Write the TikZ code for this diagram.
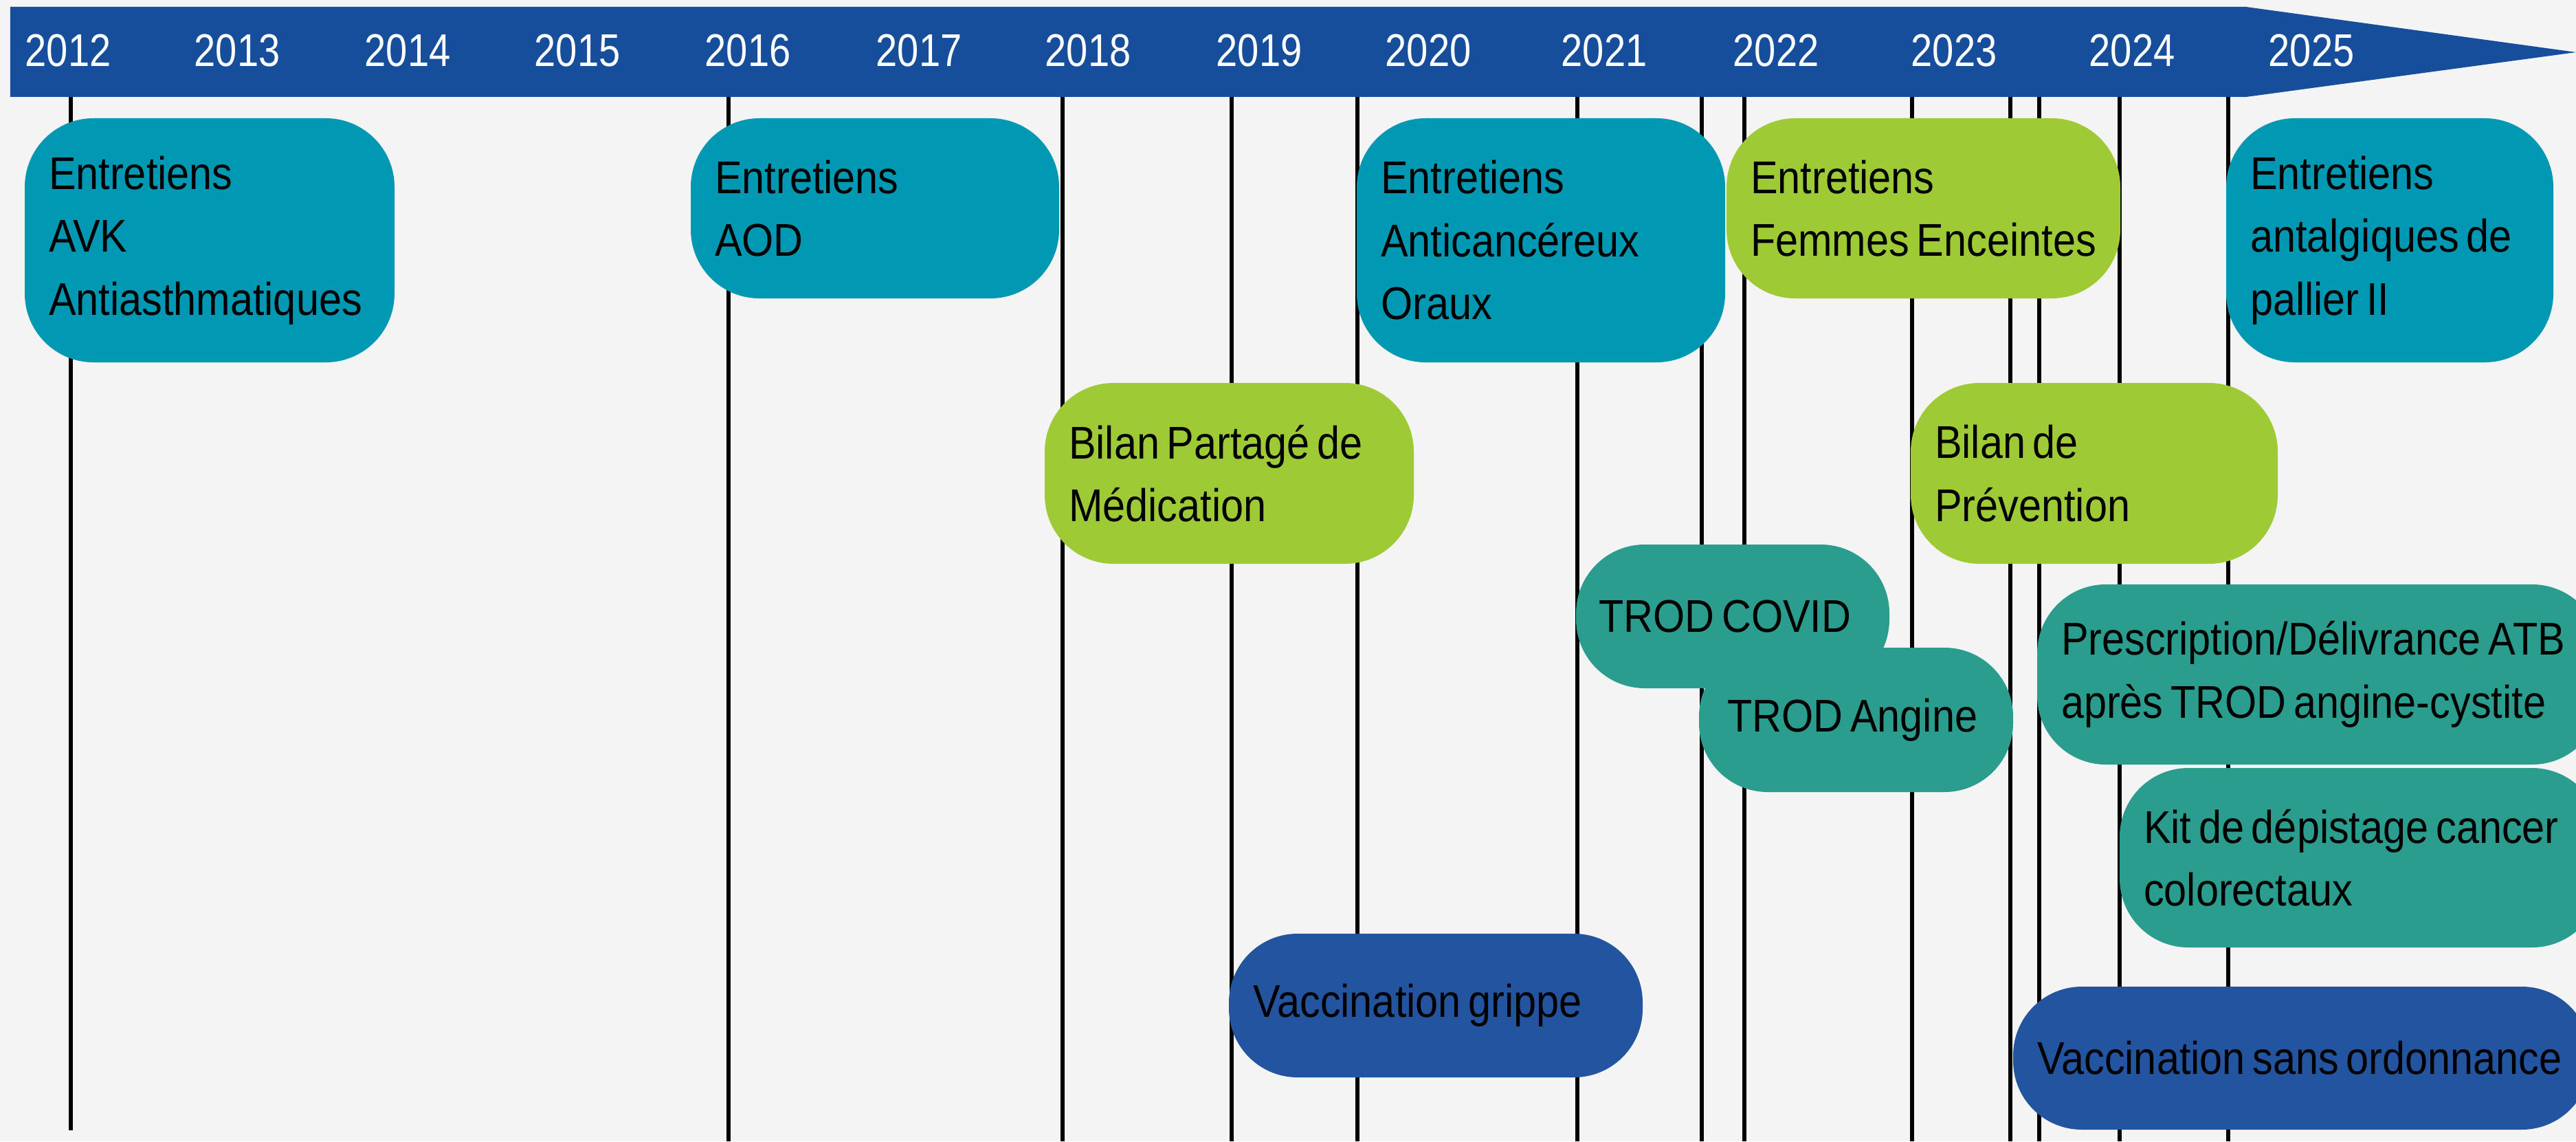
\documentclass[tikz,border=0pt]{standalone}
\usepackage{fontspec}
\setmainfont[FakeStretch=0.89,WordSpace=0.65]{Liberation Sans}
\newfontfamily\yearfont[FakeStretch=0.84]{Liberation Sans}
\definecolor{palbg}{RGB}{244,244,244}
\definecolor{palband}{RGB}{23,78,155}
\definecolor{palteal}{RGB}{0,152,179}
\definecolor{palgreen}{RGB}{158,202,54}
\definecolor{palsea}{RGB}{42,157,142}
\definecolor{palnavy}{RGB}{35,84,160}
\tikzset{
  event/.style={
    rounded corners=1cm,
    inner sep=0pt,
    align=flush left,
    font=\fontsize{19}{26}\selectfont,
    text=black
  },
  tealbox/.style={event, fill=palteal},
  greenbox/.style={event, fill=palgreen},
  seabox/.style={event, fill=palsea},
  navybox/.style={event, fill=palnavy},
  year/.style={anchor=base west, inner sep=0pt, text=white, font=\yearfont\fontsize{19}{26}\selectfont},
  yearline/.style={line width=1.7pt, draw=black}
}

\begin{document}
\begin{tikzpicture}
        \useasboundingbox (0,0) rectangle (37.48,-16.6);
        \clip (0,0) rectangle (37.48,-16.6);
        \fill[palbg] (0,0) rectangle (37.48,-16.6);

        % milestones
        \draw[yearline] (1.03,-1.41) -- (1.03,-16.44);
        \foreach \x in {10.60,15.46,17.92,19.75,22.95,24.76,25.38,27.82,29.25,29.67,30.84,32.42}
          \draw[yearline] (\x,-1.41) -- (\x,-16.6);

        % time band
        \fill[palband] (0.15,-0.10) -- (32.68,-0.10) -- (37.48,-0.76) -- (32.68,-1.41) -- (0.15,-1.41) -- cycle;
        \foreach \yr/\x in {2012/0.36,2013/2.82,2014/5.30,2015/7.77,2016/10.25,2017/12.74,2018/15.20,
                           2019/17.69,2020/20.15,2021/22.71,2022/25.21,2023/27.80,2024/30.39,2025/33.00}
          \node[year] (y\yr) at (\x,-0.97) {\yr};

        % entretiens
        \node[tealbox, minimum width=5.38cm, minimum height=3.55cm, text width=4.68cm] (avk) at (3.05,-3.495) {Entretiens\\AVK\\Antiasthmatiques};
        \node[tealbox, minimum width=5.36cm, minimum height=2.62cm, text width=4.66cm] (aod) at (12.73,-3.03) {Entretiens\\AOD};
        \node[tealbox, minimum width=5.36cm, minimum height=3.55cm, text width=4.66cm] (onco) at (22.42,-3.495) {Entretiens\\Anticancéreux\\Oraux};
        \node[greenbox, minimum width=5.73cm, minimum height=2.62cm, text width=5.03cm] (femmes) at (27.985,-3.03) {Entretiens\\Femmes~Enceintes};
        \node[tealbox, minimum width=4.76cm, minimum height=3.55cm, text width=4.06cm] (antalg) at (34.77,-3.495) {Entretiens\\antalgiques~de\\pallier II};

        % bilans
        \node[greenbox, minimum width=5.37cm, minimum height=2.63cm, text width=4.67cm] (bpm) at (17.885,-6.885) {Bilan Partagé~de\\Médication};
        \node[greenbox, minimum width=5.34cm, minimum height=2.63cm, text width=4.64cm] (prev) at (30.47,-6.885) {Bilan de\\Prévention};

        % trod et depistage
        \node[seabox, minimum width=4.56cm, minimum height=2.09cm, text width=3.90cm] (covid) at (25.21,-8.965) {TROD~COVID};
        \node[seabox, minimum width=4.57cm, minimum height=2.10cm, text width=3.75cm] (angine) at (27.005,-10.47) {TROD~Angine};
        \node[seabox, minimum width=8.20cm, minimum height=2.62cm, text width=7.50cm] (atb) at (33.74,-9.81) {Prescription/Délivrance~ATB\\après TROD angine-cystite};
        \node[seabox, minimum width=7.00cm, minimum height=2.61cm, text width=6.30cm] (kit) at (34.34,-12.475) {Kit de dépistage~cancer\\colorectaux};

        % vaccination
        \node[navybox, minimum width=6.02cm, minimum height=2.09cm, text width=5.32cm] (grippe) at (20.89,-14.625) {Vaccination grippe};
        \node[navybox, minimum width=8.40cm, minimum height=2.08cm, text width=7.70cm] (sansordo) at (33.49,-15.39) {Vaccination sans~ordonnance};
      \end{tikzpicture}
\end{document}
